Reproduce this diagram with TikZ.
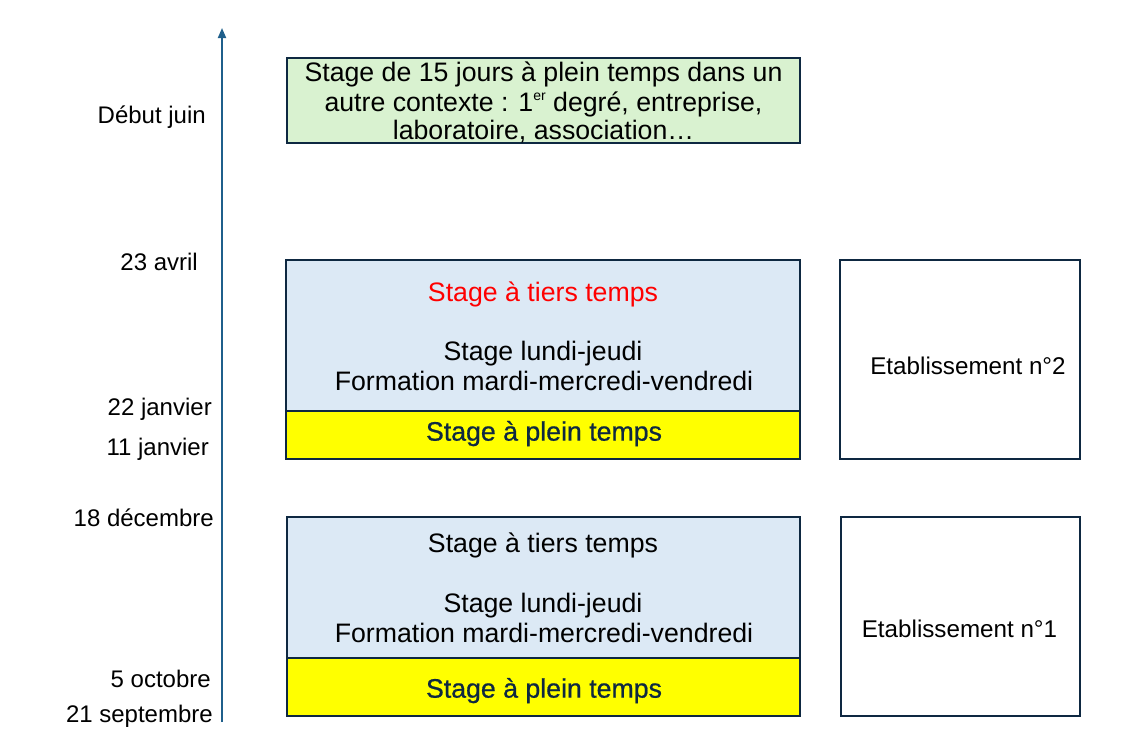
\documentclass[tikz,border=0pt]{standalone}
\usepackage{fontspec}
\setmainfont{Liberation Sans}
\usetikzlibrary{arrows.meta}
\definecolor{bord}{HTML}{0E2841}
\definecolor{bleu}{HTML}{DCE9F5}
\definecolor{vert}{HTML}{D9F2D0}
\definecolor{jaune}{HTML}{FFFF00}
\definecolor{fleche}{HTML}{1F5F8B}
\newcommand{\supr}[1]{\raisebox{0.42em}{\fontsize{14}{14}\selectfont #1}}
\begin{document}
\begin{tikzpicture}[x=1pt,y=-1pt,
  box/.style={draw=bord, line width=2pt},
  bt/.style={font=\fontsize{26.7}{29.5}\selectfont, anchor=mid, inner sep=0pt},
  yt/.style={font=\fontsize{26.7}{29.5}\selectfont\addfontfeature{FakeBold=0.7}, text=bord, anchor=mid, inner sep=0pt},
  et/.style={font=\fontsize{24.2}{28}\selectfont, anchor=mid, inner sep=0pt},
  dt/.style={font=\fontsize{24}{28}\selectfont, anchor=mid east, inner sep=0pt}]
\useasboundingbox (0,0) rectangle (1130,732);
% boxes
\path[box, fill=vert] (287,58) rectangle (800,143);
\path[box, fill=bleu] (286,260) rectangle (800,411);
\path[box, fill=jaune] (286,411) rectangle (800,459);
\path[box, fill=white] (840,260) rectangle (1080,459);
\path[box, fill=bleu] (287,517) rectangle (800,658);
\path[box, fill=jaune] (287,658) rectangle (800,716);
\path[box, fill=white] (841,517) rectangle (1080,716);
% arrow
\coordinate (a0) at (222,722);
\coordinate (a1) at (222,28);
\draw[fleche, line width=1.8pt, -{Triangle[length=10pt,width=8pt]}] (a0) -- (a1);
% top box
\node[bt] (t1) at (543.5,79) {Stage de 15 jours à plein temps dans un};
\node[bt] (t2) at (543.5,109) {autre contexte : 1\supr{er} degré, entreprise,};
\node[bt] (t3) at (543.5,137) {laboratoire, association\dots};
% box 2
\node[bt, text=red] (b2a) at (543,299) {Stage à tiers temps};
\node[bt] (b2b) at (543,358) {Stage lundi-jeudi};
\node[bt] (b2c) at (544,388) {Formation mardi-mercredi-vendredi};
\node[yt] (y2) at (544,438) {Stage à plein temps};
\node[et] (e2) at (968,372) {Etablissement n°2};
% box 1
\node[bt] (b1a) at (543,550) {Stage à tiers temps};
\node[bt] (b1b) at (543,610) {Stage lundi-jeudi};
\node[bt] (b1c) at (544,640) {Formation mardi-mercredi-vendredi};
\node[yt] (y1) at (544,695) {Stage à plein temps};
\node[et] (e1) at (959.5,635) {Etablissement n°1};
% dates
\node[dt] (d1) at (206,121) {Début juin};
\node[dt] (d2) at (198,268) {23 avril};
\node[dt] (d3) at (212,413) {22 janvier};
\node[dt] (d4) at (209,453) {11 janvier};
\node[dt] (d5) at (214,524) {18 décembre};
\node[dt] (d6) at (211,685) {5 octobre};
\node[dt] (d7) at (213,720) {21 septembre};
\end{tikzpicture}
\end{document}
